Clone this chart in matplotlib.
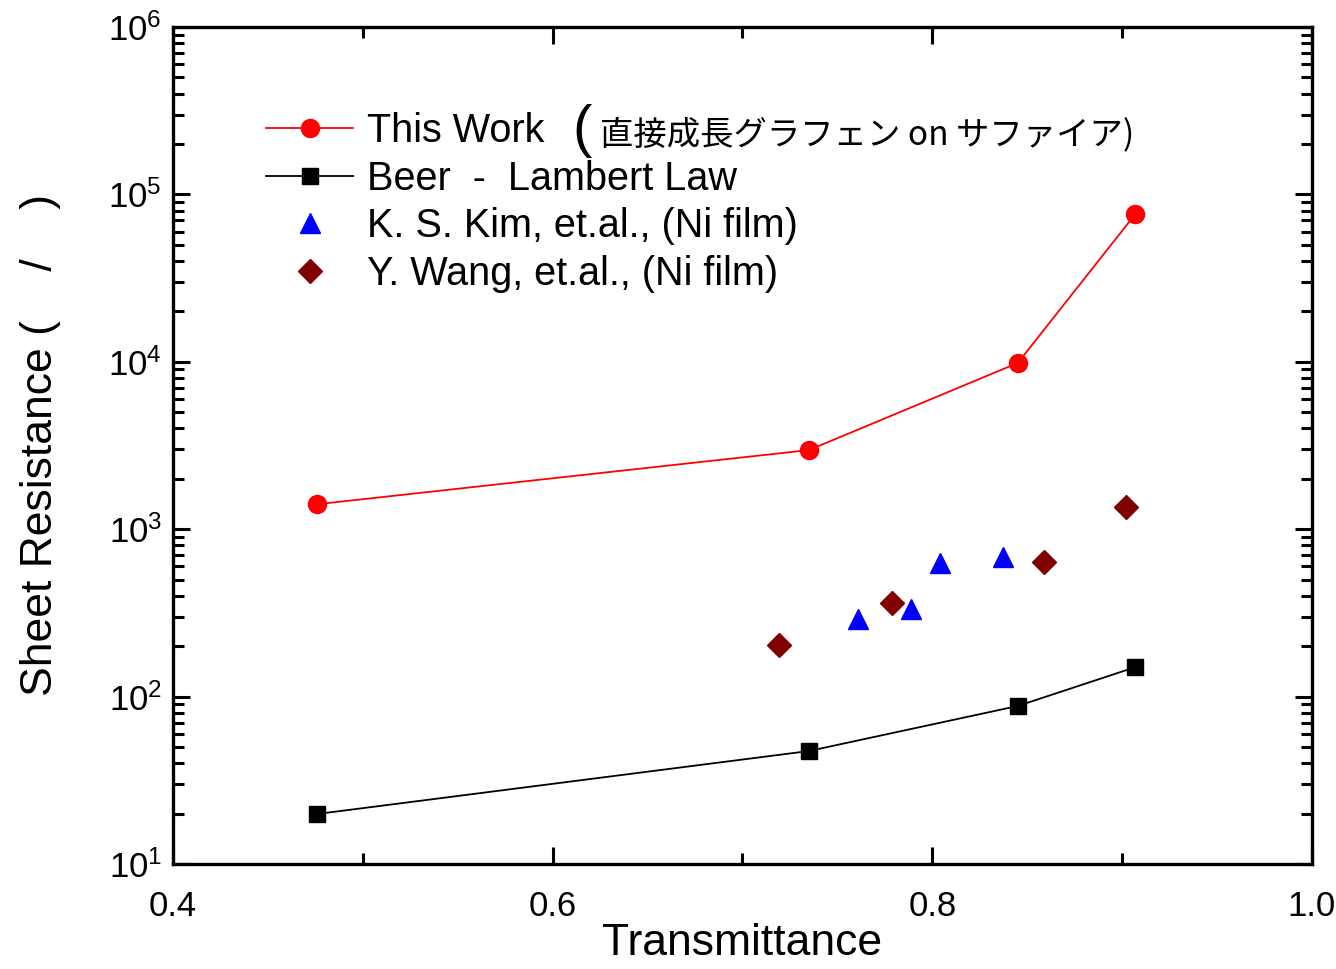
import matplotlib
matplotlib.use('Agg')
import matplotlib.pyplot as plt
from matplotlib.ticker import LogLocator, FixedLocator, NullFormatter
import numpy as np

# data
this_work_t = [0.476, 0.735, 0.845, 0.907]
this_work_r = [1410, 2970, 9840, 76400]
beer_t = [0.476, 0.735, 0.845, 0.907]
beer_r = [19.9, 47.3, 87.9, 150]
kim_t = [0.761, 0.789, 0.804, 0.837]
kim_r = [291, 333, 628, 682]
wang_t = [0.719, 0.779, 0.859, 0.902]
wang_r = [203, 362, 637, 1358]

x_ticks = [0.4, 0.6, 0.8, 1.0]
x_tick_labels = ['0.4', '0.6', '0.8', '1.0']
jp_label = '直接成長グラフェン on サファイア)'

FONT = ['Liberation Sans', 'Noto Sans CJK JP', 'DejaVu Sans']
plt.rcParams['font.family'] = FONT
plt.rcParams['mathtext.fontset'] = 'custom'
plt.rcParams['mathtext.rm'] = 'Liberation Sans'
plt.rcParams['mathtext.it'] = 'Liberation Sans'

fig = plt.figure(figsize=(13.36, 9.69), dpi=100)
ax = fig.add_axes([173/1336, 1 - 864/969, (1312-173)/1336, (864-27)/969])

ax.plot(this_work_t, this_work_r, color='#ff0000', lw=1.3, marker='o', ms=13,
        label='This Work')
ax.plot(beer_t, beer_r, color='black', lw=1.3, marker='s', ms=11,
        label='Beer  -  Lambert Law')
ax.plot(kim_t, kim_r, ls='none', color='#0000ff', marker='^', ms=15,
        label='K. S. Kim, et.al., (Ni film)')
ax.plot(wang_t, wang_r, ls='none', color='#800000', marker='D', ms=12,
        label='Y. Wang, et.al., (Ni film)')

ax.set_yscale('log')
ax.set_xlim(0.4, 1.0)
ax.set_ylim(10, 1e6)

ax.xaxis.set_major_locator(FixedLocator(x_ticks))
ax.set_xticklabels(x_tick_labels)
ax.xaxis.set_minor_locator(FixedLocator([0.5, 0.7, 0.9]))
ax.yaxis.set_major_locator(LogLocator(base=10, numticks=10))
ax.yaxis.set_minor_locator(LogLocator(base=10, subs=np.arange(2, 10), numticks=20))
ax.yaxis.set_minor_formatter(NullFormatter())

ax.tick_params(which='both', direction='in', top=True, right=True, width=2.2)
ax.tick_params(which='major', length=12, labelsize=25)
ax.tick_params(axis='x', which='major', pad=19)
ax.tick_params(axis='y', which='major', pad=8)
ax.tick_params(which='minor', length=8)
for s in ax.spines.values():
    s.set_linewidth(2.4)

ax.set_xlabel('Transmittance', fontsize=32, labelpad=0)
ax.set_ylabel('Sheet Resistance (    /    )', fontsize=32, labelpad=34)

leg = ax.legend(loc='upper left', bbox_to_anchor=(0.068, 0.917), frameon=False,
                fontsize=28.5, handlelength=2.2, handletextpad=0.35,
                labelspacing=0.24, numpoints=1, borderaxespad=0)

# Japanese part of the first legend entry, placed right after "This Work"
fig.canvas.draw()
bb = leg.get_texts()[0].get_window_extent()
x0, yc = bb.x1, (bb.y0 + bb.y1) / 2
fig.text(x0 + 28, yc, '(', transform=None, fontsize=42,
         va='center', ha='left', family=['Liberation Sans'])
fig.text(x0 + 55, yc - 4, jp_label, transform=None, fontsize=24,
         va='center', ha='left', family=['Noto Sans CJK JP', 'DejaVu Sans'])

fig.savefig('out.png', dpi=100)
